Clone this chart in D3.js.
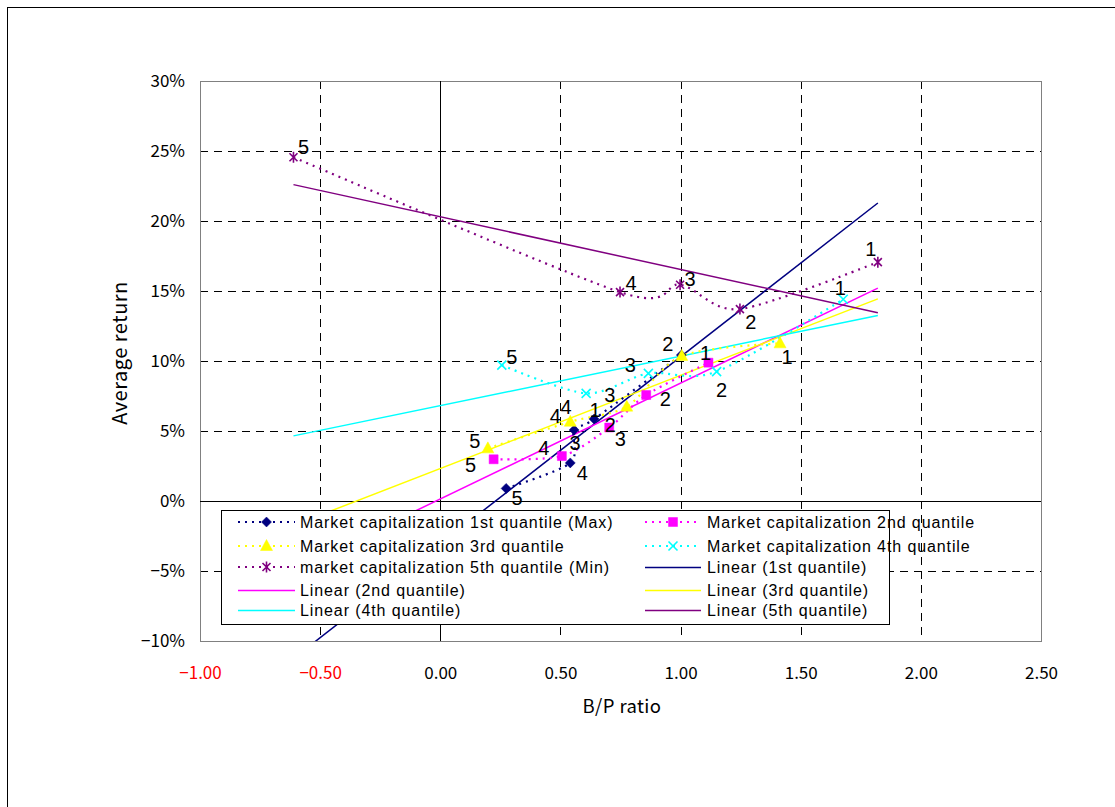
<!DOCTYPE html>
<html>
<head>
<meta charset="utf-8">
<script src="https://cdn.jsdelivr.net/npm/d3@7/dist/d3.min.js"></script>
<style>
  html, body { margin: 0; padding: 0; background: #fff; }
  svg { display: block; font-family: "Noto Sans CJK JP", "Noto Sans", sans-serif; }
</style>
</head>
<body>
<svg id="chart" width="1115" height="807"></svg>
<script>
// Average return by B/P ratio, five market-capitalization quantiles (points labelled 1..5)
const xTicks = [-1, -0.5, 0, 0.5, 1, 1.5, 2, 2.5];
const yTicks = [-10, -5, 0, 5, 10, 15, 20, 25, 30];
const pointLabels = [1, 2, 3, 4, 5];

// B/P ratio and average return (%) per quantile, in order of point label 1..5
const q1BP  = [0.640, 1.003, 0.557, 0.541, 0.274];
const q1Ret = [5.85, 10.42, 5.07, 2.72, 0.90];
const q2BP  = [1.116, 0.857, 0.703, 0.506, 0.222];
const q2Ret = [9.88, 7.57, 5.25, 3.21, 2.98];
const q3BP  = [1.414, 1.005, 0.776, 0.541, 0.198];
const q3Ret = [11.26, 10.36, 6.74, 5.66, 3.76];
const q4BP  = [1.677, 1.150, 0.866, 0.607, 0.256];
const q4Ret = [14.41, 9.24, 9.12, 7.69, 9.71];
const q5BP  = [1.821, 1.247, 0.998, 0.748, -0.611];
const q5Ret = [17.06, 13.71, 15.45, 14.92, 24.55];

const seriesNames = [
  "Market capitalization 1st quantile (Max)",
  "Market capitalization 2nd quantile",
  "Market capitalization 3rd quantile",
  "Market capitalization 4th quantile",
  "market capitalization 5th quantile (Min)"
];
const trendNames = [
  "Linear (1st quantile)",
  "Linear (2nd quantile)",
  "Linear (3rd quantile)",
  "Linear (4th quantile)",
  "Linear (5th quantile)"
];

// styling
const colors  = ["#000080", "#FF00FF", "#FFFF00", "#00FFFF", "#800080"];
const markers = ["diamond", "square", "triangle", "cross", "star"];
// label placement relative to each marker (px), label order 1..5
const labelOffsets = [
  [[1, -9], [-71, 70], [1, 13], [12, 10], [11, 10]],
  [[-3, -10], [19, 4], [11, 11], [-18, -8], [-23, 6]],
  [[7, 14], [-14, -12], [-17, -12], [-15, -6], [-13, -7]],
  [[-3, -11], [5, 18], [-18, -8], [-20, 14], [10, -8]],
  [[-7, -13], [11, 13], [10, -6], [11, -9], [10, -10]]
];

const bp  = [q1BP, q2BP, q3BP, q4BP, q5BP];
const ret = [q1Ret, q2Ret, q3Ret, q4Ret, q5Ret];
const series = bp.map((xs, i) => ({
  name: seriesNames[i],
  trend: trendNames[i],
  color: colors[i],
  marker: markers[i],
  points: xs.map((x, j) => ({ x, y: ret[i][j], label: pointLabels[j], off: labelOffsets[i][j] }))
}));

// least-squares linear fit
function linearFit(pts) {
  const mx = d3.mean(pts, d => d.x), my = d3.mean(pts, d => d.y);
  const sxy = d3.sum(pts, d => (d.x - mx) * (d.y - my));
  const sxx = d3.sum(pts, d => (d.x - mx) * (d.x - mx));
  const slope = sxy / sxx;
  return { slope, intercept: my - slope * mx };
}

const svg = d3.select("#chart");
const plot = { left: 200, top: 81, right: 1041, bottom: 641 };

const x = d3.scaleLinear().domain([-1, 2.5]).range([plot.left, plot.right]);
const y = d3.scaleLinear().domain([-10, 30]).range([plot.bottom, plot.top]);

// outer chart frame
svg.append("rect")
  .attr("x", 7.5).attr("y", 7.5).attr("width", 1200).attr("height", 900)
  .attr("fill", "#fff").attr("stroke", "#000").attr("stroke-width", 1);

svg.append("defs").append("clipPath").attr("id", "plotClip")
  .append("rect")
  .attr("x", plot.left).attr("y", plot.top)
  .attr("width", plot.right - plot.left).attr("height", plot.bottom - plot.top);

// gridlines
const grid = svg.append("g");
grid.selectAll(".vg").data(xTicks.filter(t => t !== 0 && t !== -1 && t !== 2.5)).join("line")
  .attr("x1", d => Math.round(x(d)) + 0.5).attr("x2", d => Math.round(x(d)) + 0.5)
  .attr("y1", plot.top).attr("y2", plot.bottom)
  .attr("stroke", "#000").attr("stroke-width", 1).attr("stroke-dasharray", "8 6");
grid.selectAll(".hg").data(yTicks.filter(t => t !== 0 && t !== 30 && t !== -10)).join("line")
  .attr("x1", plot.left).attr("x2", plot.right)
  .attr("y1", d => Math.round(y(d)) + 0.5).attr("y2", d => Math.round(y(d)) + 0.5)
  .attr("stroke", "#000").attr("stroke-width", 1).attr("stroke-dasharray", "8 6");

// plot area border
svg.append("rect")
  .attr("x", plot.left + 0.5).attr("y", plot.top + 0.5)
  .attr("width", plot.right - plot.left).attr("height", plot.bottom - plot.top)
  .attr("fill", "none").attr("stroke", "#808080").attr("stroke-width", 1);

// zero axes
svg.append("line")
  .attr("x1", Math.round(x(0)) + 0.5).attr("x2", Math.round(x(0)) + 0.5)
  .attr("y1", plot.top).attr("y2", plot.bottom)
  .attr("stroke", "#000").attr("stroke-width", 1);
svg.append("line")
  .attr("x1", plot.left).attr("x2", plot.right)
  .attr("y1", Math.round(y(0)) + 0.5).attr("y2", Math.round(y(0)) + 0.5)
  .attr("stroke", "#000").attr("stroke-width", 1);

// tick labels
const minus = s => s.replace("-", "\u2212");
const yAxis = d3.axisLeft(y).tickValues(yTicks).tickSize(0).tickPadding(15)
  .tickFormat(d => minus(d + "%"));
const gy = svg.append("g").attr("transform", `translate(${plot.left},0)`).call(yAxis);
gy.select(".domain").remove();
gy.selectAll("text").attr("font-size", 17).attr("font-family", "Noto Sans CJK JP").attr("fill", "#000");

const xAxis = d3.axisBottom(x).tickValues(xTicks).tickSize(0).tickPadding(26)
  .tickFormat(d => minus(d3.format(".2f")(d)));
const gx = svg.append("g").attr("transform", `translate(0,${plot.bottom})`).call(xAxis);
gx.select(".domain").remove();
gx.selectAll("text").attr("font-size", 17).attr("font-family", "Noto Sans CJK JP")
  .attr("fill", d => d < 0 ? "#FF0000" : "#000");

// axis titles
svg.append("text").attr("x", 622).attr("y", 713).attr("text-anchor", "middle")
  .attr("font-size", 18.5).attr("letter-spacing", 0.4).text("B/P ratio");
svg.append("text").attr("transform", "translate(127,353) rotate(-90)")
  .attr("text-anchor", "middle").attr("font-size", 20).attr("letter-spacing", 0.5).text("Average return");

// marker shapes
function markerPath(type) {
  switch (type) {
    case "diamond":  return "M0,-5L5,0L0,5L-5,0Z";
    case "square":   return "M-4.5,-4.5H4.5V4.5H-4.5Z";
    case "triangle": return "M0,-6.5L6,4.5H-6Z";
    case "cross":    return "M-4.5,-4.5L4.5,4.5M4.5,-4.5L-4.5,4.5";
    case "star":     return "M-4,-4L4,4M4,-4L-4,4M0,-5.5V5.5";
  }
}
function drawMarker(g, type, color) {
  const filled = type === "diamond" || type === "square" || type === "triangle";
  g.append("path").attr("d", markerPath(type))
    .attr("fill", filled ? color : "none")
    .attr("stroke", color)
    .attr("stroke-width", filled ? 0.5 : 1.6);
}

const xMin = d3.min(bp.flat()), xMax = d3.max(bp.flat());

// linear trendlines, extended over the full B/P range
const trendG = svg.append("g").attr("clip-path", "url(#plotClip)");
series.forEach(s => {
  const f = linearFit(s.points);
  trendG.append("line")
    .attr("x1", x(xMin)).attr("y1", y(f.intercept + f.slope * xMin))
    .attr("x2", x(xMax)).attr("y2", y(f.intercept + f.slope * xMax))
    .attr("stroke", s.color).attr("stroke-width", 1.5);
});

// smoothed dotted connecting lines
const smooth = d3.line().x(d => x(d.x)).y(d => y(d.y)).curve(d3.curveCardinal.tension(0.15));
const dataG = svg.append("g").attr("clip-path", "url(#plotClip)");
series.forEach(s => {
  const sorted = s.points.slice().sort((a, b) => a.x - b.x);
  dataG.append("path").attr("d", smooth(sorted))
    .attr("fill", "none").attr("stroke", s.color).attr("stroke-width", 2.2)
    .attr("stroke-dasharray", "2 5");
});

// markers
series.forEach(s => {
  s.points.forEach(p => {
    const g = dataG.append("g").attr("transform", `translate(${x(p.x)},${y(p.y)})`);
    drawMarker(g, s.marker, s.color);
  });
});

// point labels
const labelG = svg.append("g");
series.forEach(s => {
  s.points.forEach(p => {
    labelG.append("text")
      .attr("x", x(p.x) + p.off[0]).attr("y", y(p.y) + p.off[1] + 7)
      .attr("text-anchor", "middle")
      .attr("font-family", "Liberation Sans").attr("font-size", 20)
      .attr("fill", "#000").text(p.label);
  });
});

// legend
const legend = svg.append("g");
legend.append("rect").attr("x", 221.5).attr("y", 510.5).attr("width", 668).attr("height", 114)
  .attr("fill", "#fff").attr("stroke", "#000").attr("stroke-width", 1);
const rowsY = [522, 546, 567, 590, 610];
const colX = [{ l0: 238, l1: 295, t: 300 }, { l0: 645, l1: 701, t: 707 }];
const legendItems = [];
series.forEach(s => legendItems.push({ kind: "data", s, text: s.name }));
series.forEach(s => legendItems.push({ kind: "trend", s, text: s.trend }));
legendItems.forEach((it, i) => {
  const c = colX[i % 2], yy = rowsY[Math.floor(i / 2)];
  const g = legend.append("g");
  if (it.kind === "data") {
    g.append("line").attr("x1", c.l0).attr("x2", c.l1).attr("y1", yy).attr("y2", yy)
      .attr("stroke", it.s.color).attr("stroke-width", 2.2).attr("stroke-dasharray", "2 5");
    const m = g.append("g").attr("transform", `translate(${(c.l0 + c.l1) / 2},${yy})`);
    drawMarker(m, it.s.marker, it.s.color);
  } else {
    g.append("line").attr("x1", c.l0).attr("x2", c.l1).attr("y1", yy + 0.5).attr("y2", yy + 0.5)
      .attr("stroke", it.s.color).attr("stroke-width", 1.5);
  }
  g.append("text").attr("x", c.t).attr("y", yy + 6)
    .attr("font-family", "Liberation Sans").attr("font-size", 16).attr("letter-spacing", 0.9)
    .attr("fill", "#000").text(it.text);
});
</script>
</body>
</html>
